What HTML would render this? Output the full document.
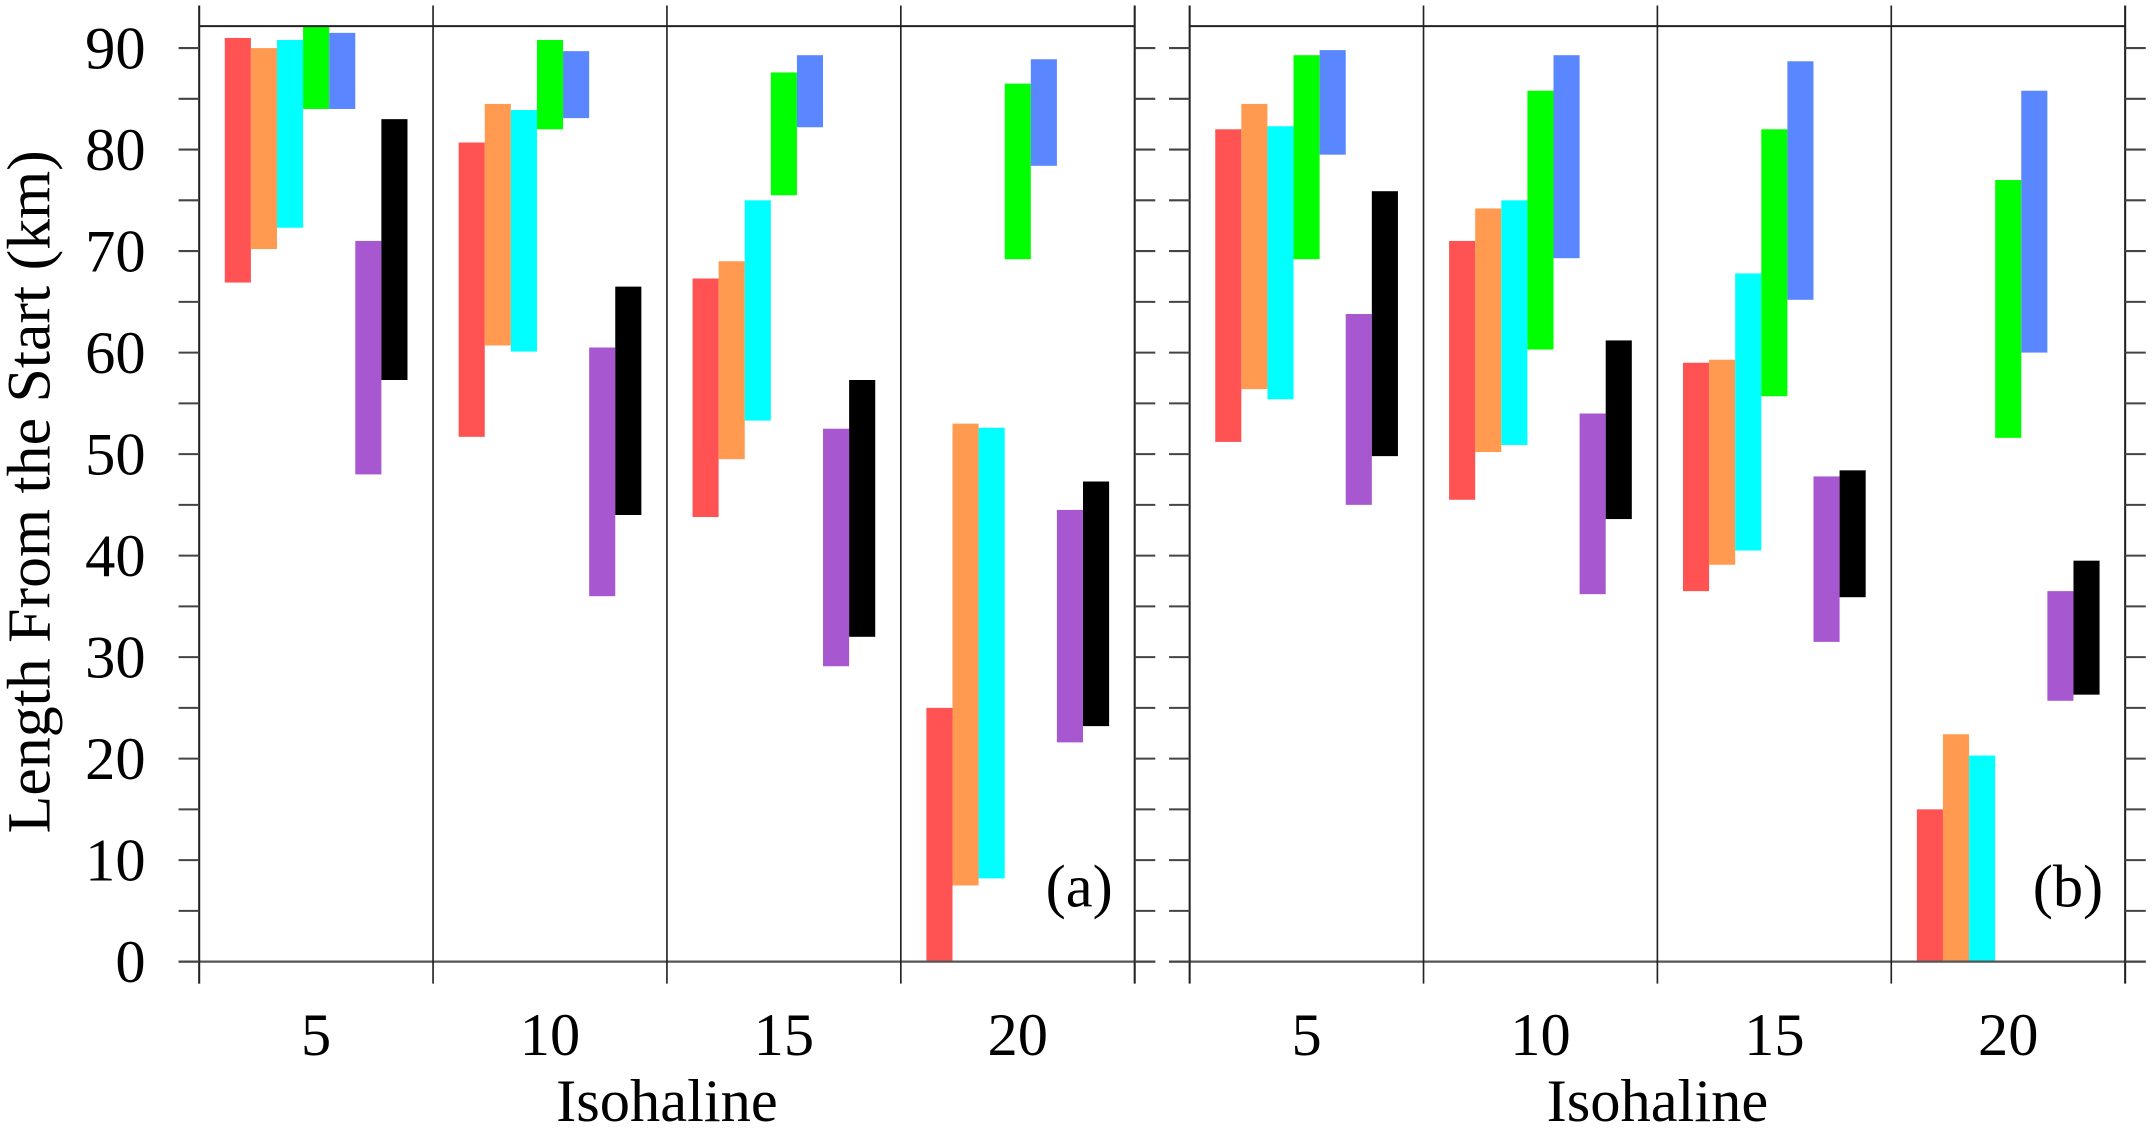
<!DOCTYPE html>
<html><head><meta charset="utf-8"><style>
html,body{margin:0;padding:0;background:#fff;}
svg{display:block;}
text{font-family:"Liberation Serif","Times New Roman",serif;fill:#000;}
</style></head><body>
<svg id="chart" width="2154" height="1131" viewBox="0 0 1568 823.3" xmlns="http://www.w3.org/2000/svg" font-family="Liberation Serif, serif">
<g id="layer"></g>
</svg>
<script>
const categories = ["5","10","15","20"];
const seriesColors = ["#ff5252","#ff9a50","#00ffff","#00ff00","#5a87ff","#a757d0","#000000"];
const yTicks = [0,10,20,30,40,50,60,70,80,90];
const panelLabels = ["(a)","(b)"];
// panel a: [low, high] per series per category
const aRed    = [[66.9,91.0],[51.7,80.7],[43.8,67.3],[0,25.0]];
const aOrange = [[70.2,90.0],[60.7,84.5],[49.5,69.0],[7.5,53.0]];
const aCyan   = [[72.3,90.8],[60.1,83.9],[53.3,75.0],[8.2,52.6]];
const aGreen  = [[84.0,92.2],[82.0,90.8],[75.5,87.6],[69.2,86.5]];
const aBlue   = [[84.0,91.5],[83.1,89.7],[82.2,89.3],[78.4,88.9]];
const aPurple = [[48.0,71.0],[36.0,60.5],[29.1,52.5],[21.6,44.5]];
const aBlack  = [[57.3,83.0],[44.0,66.5],[32.0,57.3],[23.2,47.3]];
// panel b
const bRed    = [[51.2,82.0],[45.5,71.0],[36.5,59.0],[0,15.0]];
const bOrange = [[56.4,84.5],[50.2,74.2],[39.1,59.3],[0,22.4]];
const bCyan   = [[55.4,82.3],[50.9,75.0],[40.5,67.8],[0,20.3]];
const bGreen  = [[69.2,89.3],[60.3,85.8],[55.7,82.0],[51.6,77.0]];
const bBlue   = [[79.5,89.8],[69.3,89.3],[65.2,88.7],[60.0,85.8]];
const bPurple = [[45.0,63.8],[36.2,54.0],[31.5,47.8],[25.7,36.5]];
const bBlack  = [[49.8,75.9],[43.6,61.2],[35.9,48.4],[26.3,39.5]];

const panelsData = [[aRed,aOrange,aCyan,aGreen,aBlue,aPurple,aBlack],[bRed,bOrange,bCyan,bGreen,bBlue,bPurple,bBlack]];
const panelLeft = [145, 866];
const groupW = 170.25;
const Y0 = 700, Y90 = 35, YTOP = 19;
function yScale(v){ return Y0 - (v/90)*(Y0-Y90); }
const NS = "http://www.w3.org/2000/svg";
const FONT = "Liberation Serif, Times New Roman, serif";
const layer = document.getElementById('layer');
function mk(tag, attrs, parent){ const e=document.createElementNS(NS,tag); for(const k in attrs) e.setAttribute(k,attrs[k]); (parent||layer).appendChild(e); return e; }

panelsData.forEach((series, p) => {
  const L = panelLeft[p], R = L + groupW*4;
  const g = mk('g', {});
  
  
  series.forEach((arr, s) => {
    arr.forEach((rng, c) => {
      const bw = 19;
      const x = L + groupW*c + (groupW - 7*bw)/2 + s*bw;
      const yTop = yScale(Math.min(rng[1], 92.2));
      const yBot = yScale(rng[0]);
      const r = mk('rect', {x:x, y:yTop, width:bw, height:Math.max(0,yBot-yTop), fill:seriesColors[s]}, g);
      
      
    });
  });
  mk('line', {x1:L, y1:YTOP, x2:R, y2:YTOP, stroke:'#222', 'stroke-width':1.4}, g);
  mk('line', {x1:L-15, y1:Y0, x2:R+15, y2:Y0, stroke:'#555', 'stroke-width':1.6}, g);
  for(let i=0;i<=4;i++){
    const x = L + groupW*i;
    const ln = mk('line', {x1:x, y1:4, x2:x, y2:716, stroke:'#222', 'stroke-width':(i===0||i===4)?1.5:1.2}, g);
    
    
  }
  for(let v=0; v<=90; v+=5){
    const y = yScale(v);
    mk('line', {x1:L-15, y1:y, x2:L, y2:y, stroke:'#444', 'stroke-width':1.5}, g);
    mk('line', {x1:R, y1:y, x2:R+15, y2:y, stroke:'#444', 'stroke-width':1.5}, g);
  }
  if(p===0){
    yTicks.forEach(v => {
      const t = mk('text', {x:106, y:yScale(v)+15, 'font-size':44, 'text-anchor':'end', 'font-family':FONT}, g);
      t.textContent = v;
      
      
    });
  }
  categories.forEach((c, i) => {
    const t = mk('text', {x:L + groupW*(i+0.5), y:768, 'font-size':44, 'text-anchor':'middle', 'font-family':FONT}, g);
    t.textContent = c;
    
    
  });
  const xt = mk('text', {x:(L+R)/2, y:816, 'font-size':44, 'text-anchor':'middle', 'font-family':FONT}, g);
  xt.textContent = 'Isohaline';
  
  
  const pl = mk('text', {x:R-16, y:660, 'font-size':44, 'text-anchor':'end', 'font-family':FONT}, g);
  pl.textContent = panelLabels[p];
  
  
});
const yt = mk('text', {x:0, y:0, 'font-size':45, 'text-anchor':'middle', 'font-family':FONT, transform:'translate(36,358) rotate(-90)'});
yt.textContent = 'Length From the Start (km)';


</script>
</body></html>
